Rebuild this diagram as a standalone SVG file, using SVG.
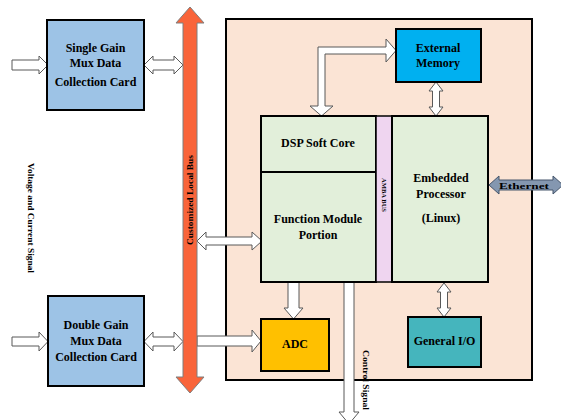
<svg xmlns="http://www.w3.org/2000/svg" width="561" height="420" viewBox="0 0 561 420">
<style>
.box{stroke:#000;stroke-width:2}
.t{font-family:'Liberation Serif','Times New Roman','DejaVu Serif',serif;font-weight:bold;font-size:12px;text-anchor:middle;fill:#000}
.hol{fill:#fff;stroke:#595959;stroke-width:1}
</style>
<rect width="561" height="420" fill="#fff"/>
<g id="panel"><rect x="226" y="19" width="306" height="361" fill="#fbe4d5" stroke="#000" stroke-width="2"/></g>
<g id="connectors">
<path class="hol" d="M12,60 H39 V56 L48,65 L39,74 V70 H12 Z"/>
<path class="hol" d="M144,65 L153,56 V60 H174 V56 L183,65 L174,74 V70 H153 V74 Z"/>
<path class="hol" d="M12,337 H39 V332 L48,341.5 L39,351 V346 H12 Z"/>
<path class="hol" d="M144,341.5 L153,332 V337 H174 V332 L183,341.5 L174,351 V346 H153 V351 Z"/>
<path class="hol" d="M197,241 L206,232 V237 H252 V232 L262,241 L252,250 V245 H206 V250 Z"/>
<path class="hol" d="M197,336 H252 V330 L261,341 L252,352 V346 H197 Z"/>
<path class="hol" d="M288,283 V308 H284 L293.5,319 L303,308 H299 V283"/>
<path class="hol" d="M318,106 V47 H386 V39 L396,50.5 L386,62 V54 H325 V106 H333 L321.5,116 L310,106 Z"/>
<path class="hol" d="M436,82 L443,91 H439.5 V107 H443 L436,116 L429,107 H432.5 V91 H429 Z"/>
<path class="hol" d="M444,283 L451,292 H447.5 V308 H451 L444,317 L437,308 H440.5 V292 H437 Z"/>
<path class="hol" d="M344,282 V412 H339 L349,424 L359,412 H354 V282"/>
<path d="M489,185 L499,176 V180 H553 V176 L563,185 L553,194 V190 H499 V194 Z" fill="#8497b0" stroke="#44546a" stroke-width="1"/>
<text class="t" x="524" y="188.5" style="font-size:8px" textLength="50" lengthAdjust="spacingAndGlyphs">Ethernet</text>
<text class="t" transform="translate(363,380) rotate(90)" style="font-size:8px" textLength="60" lengthAdjust="spacingAndGlyphs">Control Signal</text>
</g>
<g id="bus">
<path d="M190,7 L204,23 H197 V377 H204 L190,393 L176,377 H183 V23 H176 Z" fill="#f9643a" stroke="#7f7f7f" stroke-width="1"/>
<text class="t" transform="translate(193,200) rotate(-90)" style="font-size:9px" textLength="90" lengthAdjust="spacingAndGlyphs">Customized Local Bus</text>
</g>
<g id="voltage-label">
<text class="t" transform="translate(28,218) rotate(90)" style="font-size:9px" textLength="110" lengthAdjust="spacingAndGlyphs">Voltage and Current Signal</text>
</g>
<g id="single-gain">
<rect class="box" x="47" y="20" width="97" height="90" fill="#9dc3e6"/>
<text class="t" x="95.5" y="52">Single Gain</text>
<text class="t" x="95.5" y="67">Mux Data</text>
<text class="t" x="95.5" y="86">Collection Card</text>
</g>
<g id="double-gain">
<rect class="box" x="48" y="296" width="96" height="90" fill="#9dc3e6"/>
<text class="t" x="96" y="329">Double Gain</text>
<text class="t" x="96" y="345">Mux Data</text>
<text class="t" x="96" y="361">Collection Card</text>
</g>
<g id="external-memory">
<rect class="box" x="396" y="29" width="85" height="53" fill="#00b0f0"/>
<text class="t" x="438" y="52">External</text>
<text class="t" x="438" y="67">Memory</text>
</g>
<g id="dsp-soft-core">
<rect class="box" x="261" y="116" width="115" height="56" fill="#e2efda"/>
<text class="t" x="318" y="147">DSP Soft Core</text>
</g>
<g id="function-module">
<rect class="box" x="261" y="172" width="115" height="110" fill="#e2efda"/>
<text class="t" x="318" y="223">Function Module</text>
<text class="t" x="318" y="239">Portion</text>
</g>
<g id="amba-bus">
<rect x="376" y="116" width="16" height="166" fill="#efd5f0" stroke="#000" stroke-width="1.5"/>
<text class="t" transform="translate(381.5,195) rotate(90)" style="font-size:7px" textLength="34" lengthAdjust="spacingAndGlyphs">AMBA BUS</text>
</g>
<g id="embedded-processor">
<rect class="box" x="392" y="116" width="96" height="166" fill="#e2efda"/>
<text class="t" x="441" y="182">Embedded</text>
<text class="t" x="441" y="198">Processor</text>
<text class="t" x="441" y="222">(Linux)</text>
</g>
<g id="adc">
<rect class="box" x="261" y="319" width="68" height="52" fill="#ffc000"/>
<text class="t" x="295" y="348">ADC</text>
</g>
<g id="general-io">
<rect class="box" x="408" y="317" width="73" height="50" fill="#45b5bd"/>
<text class="t" x="444.5" y="345">General I/O</text>
</g>
</svg>
